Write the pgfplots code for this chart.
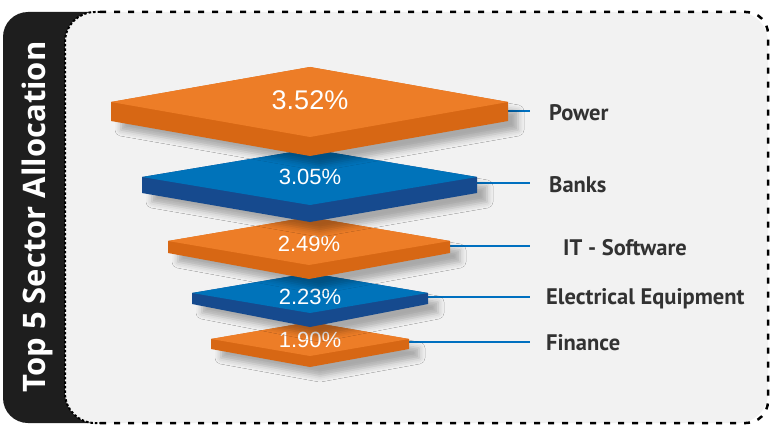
\documentclass[border=0pt]{standalone}
\usepackage{pgfplots}
\pgfplotsset{compat=1.18}
\usepackage{fontspec}
\setmainfont{Liberation Sans}
\newfontfamily\labfont{PT Sans}
\newfontfamily\titlefont{Open Sans}
\usetikzlibrary{shadows.blur}
\definecolor{oTop}{RGB}{237,125,39}
\definecolor{oSide}{RGB}{215,103,20}
\definecolor{bTop}{RGB}{0,115,186}
\definecolor{bSide}{RGB}{22,74,142}
\definecolor{lnC}{RGB}{0,112,192}
\definecolor{panel}{RGB}{242,242,242}
\definecolor{tab}{RGB}{30,30,30}
\definecolor{lab}{RGB}{50,50,50}
\tikzset{slabshadow/.style={blur shadow={shadow xshift=10pt,shadow yshift=-9pt,shadow blur radius=6pt,shadow opacity=30}},
  lbl/.style={anchor=base west,inner sep=0pt,text=lab,font=\labfont\bfseries\fontsize{22.5}{27}\selectfont}}
\begin{document}
\begin{tikzpicture}
\begin{axis}[width=771pt,height=428pt,scale only axis,
  xmin=0,xmax=771,ymin=0,ymax=428,y dir=reverse,hide axis,clip=false]
% background and frame
\fill[white] (0,0) rectangle (771,428);
\fill[tab,rounded corners=25pt] (3,12) rectangle (120,423);
\fill[panel,rounded corners=30pt] (65,12) rectangle (768,423);
\draw[black,line width=2pt,dash pattern=on 2.5pt off 2pt,rounded corners=30pt] (100,12) -- (65,12) -- (65,423) -- (100,423);
\draw[black,line width=2.5pt,dash pattern=on 6pt off 8pt,rounded corners=22pt] (100,423) -- (768,423) -- (768,12) -- (100,12);
\node[rotate=90,anchor=base,text=white,font=\titlefont\bfseries\fontsize{31}{36}\selectfont] at (45,217) {Top 5 Sector Allocation};
% connector lines
\addplot[lnC,line width=1.5pt] coordinates {(508,111) (530,111)};
\addplot[lnC,line width=1.5pt] coordinates {(477,183) (530,183)};
\addplot[lnC,line width=1.5pt] coordinates {(450,246) (530,246)};
\addplot[lnC,line width=1.5pt] coordinates {(428,297) (530,297)};
\addplot[lnC,line width=1.5pt] coordinates {(409,342) (530,342)};
% Finance 1.90
\addplot[fill=oSide,draw=none,slabshadow] coordinates {(211,339) (310,322) (409,339) (409,349) (310,367) (211,349)} -- cycle;
\addplot[fill=oTop,draw=none] coordinates {(211,339) (310,322) (409,339) (310,356)} -- cycle;
\node[anchor=base,text=white,font=\fontsize{22}{26}\selectfont] at (310,347) {1.90\%};
% Electrical Equipment 2.23
\addplot[fill=bSide,draw=none,slabshadow] coordinates {(192,293) (310,273) (428,293) (428,304) (310,327) (192,304)} -- cycle;
\addplot[fill=bTop,draw=none] coordinates {(192,293) (310,273) (428,293) (310,313)} -- cycle;
\node[anchor=base,text=white,font=\fontsize{22}{26}\selectfont] at (310,304) {2.23\%};
% IT - Software 2.49
\addplot[fill=oSide,draw=none,slabshadow] coordinates {(168,241) (309,217) (450,241) (450,253) (309,279) (168,253)} -- cycle;
\addplot[fill=oTop,draw=none] coordinates {(168,241) (309,217) (450,241) (309,265)} -- cycle;
\node[anchor=base,text=white,font=\fontsize{22}{26}\selectfont] at (309,251) {2.49\%};
% Banks 3.05
\addplot[fill=bSide,draw=none,slabshadow] coordinates {(142,177) (310,149) (477,177) (477,193) (310,222) (142,193)} -- cycle;
\addplot[fill=bTop,draw=none] coordinates {(142,177) (310,149) (477,177) (310,205)} -- cycle;
\node[anchor=base,text=white,font=\fontsize{22}{26}\selectfont] at (310,184) {3.05\%};
% Power 3.52
\addplot[fill=oSide,draw=none,slabshadow] coordinates {(111,102) (310,67) (508,102) (508,121) (310,156) (111,121)} -- cycle;
\addplot[fill=oTop,draw=none] coordinates {(111,102) (310,67) (508,102) (310,137)} -- cycle;
\node[anchor=base,text=white,font=\fontsize{27}{32}\selectfont] at (310,110) {3.52\%};
% labels
\node[lbl] at (549,120) {Power};
\node[lbl] at (549,192) {Banks};
\node[lbl] at (563,255) {IT - Software};
\node[lbl] at (546,304) {Electrical Equipment};
\node[lbl] at (546,350) {Finance};
\end{axis}
\end{tikzpicture}
\end{document}
